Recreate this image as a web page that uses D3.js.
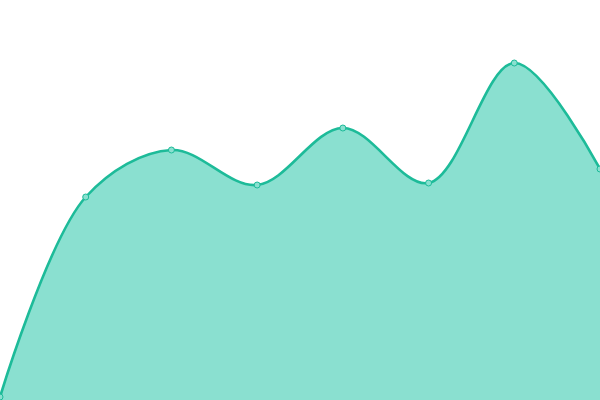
<!DOCTYPE html>
<html><head><meta charset="utf-8">
<script src="https://cdn.jsdelivr.net/npm/d3@7"></script>
<style>html,body{margin:0;padding:0;background:#fff;}svg{display:block;}</style>
</head><body>
<svg id="c" width="600" height="400"></svg>
<script>
const categories = [0, 1, 2, 3, 4, 5, 6, 7];
const values = [3, 203, 250, 215, 272, 217, 337, 231];

const W = 600, H = 400;
const svg = d3.select("#c");
const x = d3.scaleLinear().domain([0, categories.length - 1]).range([0, W]);
const y = d3.scaleLinear().domain([0, 400]).range([H, 0]);
const data = categories.map((c, i) => ({c, v: values[i]}));
const curve = d3.curveCatmullRom.alpha(0.5);

svg.append("path").datum(data)
  .attr("d", d3.area().x(d => x(d.c)).y0(y(0)).y1(d => y(d.v)).curve(curve))
  .attr("fill", "#8ae0d0");
svg.append("path").datum(data)
  .attr("d", d3.line().x(d => x(d.c)).y(d => y(d.v)).curve(curve))
  .attr("fill", "none").attr("stroke", "#1dbb99").attr("stroke-width", 2.6);
svg.selectAll("circle").data(data).enter().append("circle")
  .attr("cx", d => x(d.c)).attr("cy", d => y(d.v)).attr("r", 3)
  .attr("fill", "#8ae0d0").attr("stroke", "#1dbb99").attr("stroke-width", 1);
</script>
</body></html>
